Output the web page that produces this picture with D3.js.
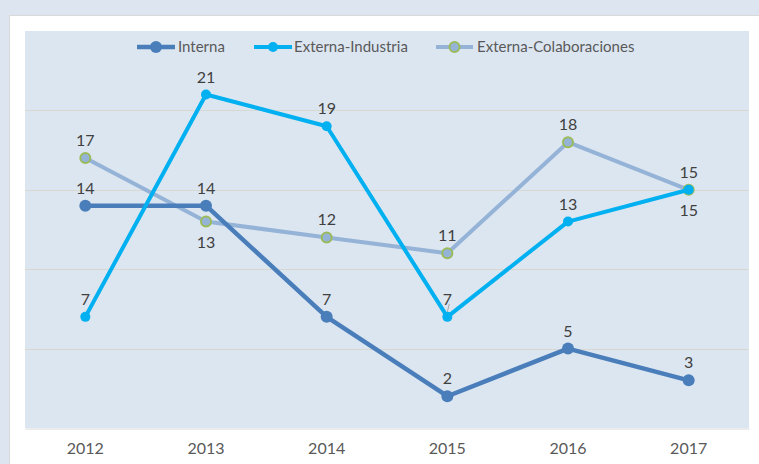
<!DOCTYPE html>
<html>
<head>
<meta charset="utf-8">
<script src="https://cdn.jsdelivr.net/npm/d3@7"></script>
<style>
  html, body { margin: 0; padding: 0; background: #dde5f0; }
  svg { display: block; }
  text { font-family: Lato, "Open Sans", sans-serif; }
</style>
</head>
<body>
<svg id="chart" width="759" height="464"></svg>
<script>
const years = ["2012", "2013", "2014", "2015", "2016", "2017"];
const interna = [14, 14, 7, 2, 5, 3];
const industria = [7, 21, 19, 7, 13, 15];
const colaboraciones = [17, 13, 12, 11, 18, 15];
const seriesNames = ["Interna", "Externa-Industria", "Externa-Colaboraciones"];
const yTicks = [0, 5, 10, 15, 20, 25];
// label placement: 1 = above, -1 = below
const internaPos = [1, 1, 1, 1, 1, 1];
const industriaPos = [1, 1, 1, 1, 1, -1];
const colaboracionesPos = [1, -1, 1, 1, 1, 1];

const svg = d3.select("#chart");
const W = 759, H = 464;
const plot = { left: 25, right: 749, top: 31, bottom: 428 };

svg.append("rect").attr("width", W).attr("height", H).attr("fill", "#dde5f0");
svg.append("rect").attr("x", 9.5).attr("y", 15.5).attr("width", W).attr("height", H)
  .attr("fill", "#ffffff").attr("stroke", "#d9d9d9").attr("stroke-width", 1);
svg.append("rect").attr("x", plot.left).attr("y", plot.top)
  .attr("width", plot.right - plot.left).attr("height", plot.bottom - plot.top)
  .attr("fill", "#dce6f1");

const x = d3.scaleBand().domain(years).range([plot.left, plot.right]);
const y = d3.scaleLinear().domain([0, 25]).range([plot.bottom, plot.top]);
const cx = d => x(d) + x.bandwidth() / 2;

svg.append("g").selectAll("line").data(yTicks.filter(t => t > 0 && t < 25)).join("line")
  .attr("x1", plot.left).attr("x2", plot.right)
  .attr("y1", d => Math.round(y(d)) + 0.5).attr("y2", d => Math.round(y(d)) + 0.5)
  .attr("stroke", "#d8d8d0").attr("stroke-width", 1);

const xAxis = svg.append("g").attr("transform", `translate(0,${plot.bottom + 0.5})`)
  .call(d3.axisBottom(x).tickSize(0).tickPadding(14));
xAxis.select(".domain").attr("stroke", "#d9d9d9");
xAxis.selectAll("text").attr("font-size", 16).attr("fill", "#595959")
  .attr("font-family", "Lato, 'Open Sans', sans-serif");

const series = [
  { name: seriesNames[0], values: interna, pos: internaPos, color: "#4a7ebb", width: 4.5, r: 6, fill: "#4a7ebb", mstroke: "none", msw: 0 },
  { name: seriesNames[1], values: industria, pos: industriaPos, color: "#00b0f0", width: 4, r: 5, fill: "#00b0f0", mstroke: "none", msw: 0 },
  { name: seriesNames[2], values: colaboraciones, pos: colaboracionesPos, color: "#95b3d7", width: 4, r: 5, fill: "#95b3d7", mstroke: "#9bbb59", msw: 2 }
];

const line = d3.line().x((d, i) => cx(years[i])).y(d => y(d));

const drawOrder = [2, 0, 1];
drawOrder.forEach(si => {
  const s = series[si];
  svg.append("path").datum(s.values).attr("d", line)
    .attr("fill", "none").attr("stroke", s.color).attr("stroke-width", s.width)
    .attr("stroke-linejoin", "round");
  svg.append("g").selectAll("circle").data(s.values).join("circle")
    .attr("cx", (d, i) => cx(years[i])).attr("cy", d => y(d)).attr("r", s.r)
    .attr("fill", s.fill).attr("stroke", s.mstroke).attr("stroke-width", s.msw);
});

series.forEach(s => {
  svg.append("g").selectAll("text").data(s.values).join("text")
    .attr("x", (d, i) => cx(years[i]))
    .attr("y", (d, i) => y(d) + (s.pos[i] > 0 ? -12 : 26))
    .attr("text-anchor", "middle").attr("font-size", 16).attr("fill", "#404040")
    .text(d => d);
});
svg.append("line")
  .attr("x1", cx("2015") + 2).attr("y1", y(industria[3]) - 13)
  .attr("x2", cx("2015")).attr("y2", y(industria[3]) - 5)
  .attr("stroke", "#a6a6a6").attr("stroke-width", 1);

const legendItems = [
  { s: series[0], x0: 137, x1: 175, tx: 178 },
  { s: series[1], x0: 254, x1: 292, tx: 294 },
  { s: series[2], x0: 436, x1: 473, tx: 477 }
];
const ly = 47;
const lg = svg.append("g");
legendItems.forEach(it => {
  lg.append("line").attr("x1", it.x0).attr("x2", it.x1).attr("y1", ly).attr("y2", ly)
    .attr("stroke", it.s.color).attr("stroke-width", it.s.width);
  lg.append("circle").attr("cx", (it.x0 + it.x1) / 2).attr("cy", ly).attr("r", it.s.r)
    .attr("fill", it.s.fill).attr("stroke", it.s.mstroke).attr("stroke-width", it.s.msw);
  lg.append("text").attr("x", it.tx).attr("y", ly + 5).attr("font-size", 15)
    .attr("fill", "#595959").text(it.s.name);
});
</script>
</body>
</html>
